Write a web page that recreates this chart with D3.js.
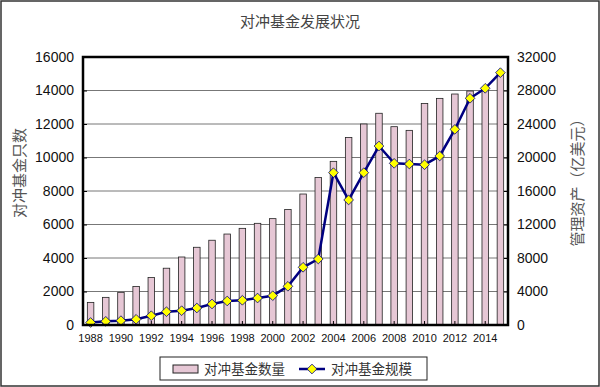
<!DOCTYPE html>
<html>
<head>
<meta charset="utf-8">
<script src="https://cdn.jsdelivr.net/npm/d3@7"></script>
<style>
  body { margin: 0; background: #fff; }
  svg { display: block; }
</style>
</head>
<body>
<div id="chart"></div>
<script>
// Data
const years = d3.range(1988, 2016);
const fundCount = [1350, 1650, 1950, 2300, 2830, 3390, 4060, 4640, 5060, 5430, 5770, 6070, 6350, 6900,
                   7820, 8810, 9770, 11200, 12000, 12640, 11840, 11620, 13230, 13530, 13790, 13970, 14130, 15060];
const fundAssets = [300, 440, 520, 680, 1110, 1590, 1710, 2030, 2510, 2870, 2950, 3220, 3500, 4620,
                    6890, 7880, 18190, 14930, 18190, 21370, 19300, 19220, 19140, 20180, 23360, 27070, 28260, 30130];
const leftTicks = d3.range(0, 16001, 2000);
const rightTicks = d3.range(0, 32001, 4000);

const width = 600, height = 387;
const margin = { top: 57, right: 92, bottom: 62, left: 83 };

const svg = d3.select("#chart")
    .append("svg")
    .attr("width", width)
    .attr("height", height)
    .style("font-family", "'Liberation Sans', Arial, sans-serif");

// outer frame
svg.append("rect")
    .attr("x", 1).attr("y", 1)
    .attr("width", width - 2).attr("height", height - 2)
    .attr("fill", "#fff")
    .attr("stroke", "#333")
    .attr("stroke-width", 1.5);

svg.append("text")
    .attr("x", 300).attr("y", 27)
    .attr("text-anchor", "middle")
    .attr("font-family", "'Noto Sans CJK SC', sans-serif")
    .attr("font-size", 15)
    .attr("fill", "#444")
    .text("对冲基金发展状况");

const x = d3.scaleBand()
    .domain(years)
    .range([margin.left, width - margin.right]);

const yL = d3.scaleLinear().domain([0, 16000]).range([height - margin.bottom, margin.top]);
const yR = d3.scaleLinear().domain([0, 32000]).range([height - margin.bottom, margin.top]);

// gridlines
svg.append("g")
    .selectAll("line")
    .data(leftTicks.slice(1, -1))
    .join("line")
    .attr("x1", margin.left).attr("x2", width - margin.right)
    .attr("y1", d => yL(d)).attr("y2", d => yL(d))
    .attr("stroke", "#777")
    .attr("stroke-width", 1);

// bars
const barW = 6.5;
svg.append("g")
    .selectAll("rect")
    .data(years)
    .join("rect")
    .attr("x", (d, i) => x(d) + x.bandwidth() / 2 - barW / 2)
    .attr("y", (d, i) => yL(fundCount[i]))
    .attr("width", barW)
    .attr("height", (d, i) => yL(0) - yL(fundCount[i]))
    .attr("fill", "#e6c7d5")
    .attr("stroke", "#222")
    .attr("stroke-width", 0.8);

// axes
const axL = svg.append("g")
    .attr("transform", `translate(${margin.left},0)`)
    .call(d3.axisLeft(yL).tickValues(leftTicks).tickSize(-4).tickPadding(9).tickFormat(d3.format("d")));
const axR = svg.append("g")
    .attr("transform", `translate(${width - margin.right},0)`)
    .call(d3.axisRight(yR).tickValues(rightTicks).tickSize(-4).tickPadding(9).tickFormat(d3.format("d")));
const axB = svg.append("g")
    .attr("transform", `translate(0,${height - margin.bottom})`)
    .call(d3.axisBottom(x).tickValues(years.filter(d => d % 2 === 0)).tickSize(-4).tickPadding(9));

[axL, axR].forEach(a => {
    a.select(".domain").remove();
    a.selectAll("line").attr("stroke", "#000");
    a.selectAll("text").attr("font-size", 14).attr("fill", "#111");
});
axB.select(".domain").remove();
axB.selectAll("line").attr("stroke", "#000");
axB.selectAll("text").attr("font-size", 11).attr("fill", "#111");

// line series
const line = d3.line()
    .x((d, i) => x(years[i]) + x.bandwidth() / 2)
    .y(d => yR(d));

svg.append("path")
    .datum(fundAssets)
    .attr("d", line)
    .attr("fill", "none")
    .attr("stroke", "#000080")
    .attr("stroke-width", 2.5);

const diamond = d3.symbol().type(d3.symbolDiamond2).size(60);
svg.append("g")
    .selectAll("path")
    .data(fundAssets)
    .join("path")
    .attr("d", diamond)
    .attr("transform", (d, i) => `translate(${x(years[i]) + x.bandwidth() / 2},${yR(d)})`)
    .attr("fill", "#ffff00")
    .attr("stroke", "#000080")
    .attr("stroke-width", 0.8);

// plot frame
svg.append("rect")
    .attr("x", margin.left).attr("y", margin.top)
    .attr("width", width - margin.left - margin.right)
    .attr("height", height - margin.top - margin.bottom)
    .attr("fill", "none")
    .attr("stroke", "#000")
    .attr("stroke-width", 2.5);

// axis titles
svg.append("text")
    .attr("transform", "translate(25,173) rotate(-90)")
    .attr("text-anchor", "middle")
    .attr("font-family", "'Noto Sans CJK SC', sans-serif")
    .attr("font-size", 15)
    .attr("fill", "#555")
    .text("对冲基金只数");

svg.append("text")
    .attr("transform", "translate(583,179) rotate(-90)")
    .attr("text-anchor", "middle")
    .attr("font-family", "'Noto Sans CJK SC', sans-serif")
    .attr("font-size", 15)
    .attr("fill", "#555")
    .text("管理资产（亿美元）");

// legend
const lg = svg.append("g").attr("font-family", "'Noto Sans CJK SC', sans-serif");
lg.append("rect")
    .attr("x", 160).attr("y", 357).attr("width", 267).attr("height", 23)
    .attr("fill", "#fff").attr("stroke", "#222").attr("stroke-width", 1);
lg.append("rect")
    .attr("x", 173).attr("y", 365).attr("width", 25).attr("height", 8)
    .attr("fill", "#e6c7d5").attr("stroke", "#222").attr("stroke-width", 1);
lg.append("text")
    .attr("x", 204).attr("y", 374)
    .attr("font-size", 13.5).attr("fill", "#333")
    .text("对冲基金数量");
lg.append("line")
    .attr("x1", 299).attr("x2", 325).attr("y1", 369).attr("y2", 369)
    .attr("stroke", "#000080").attr("stroke-width", 2.5);
lg.append("path")
    .attr("d", diamond)
    .attr("transform", "translate(312,369)")
    .attr("fill", "#ffff00").attr("stroke", "#000080").attr("stroke-width", 0.8);
lg.append("text")
    .attr("x", 331).attr("y", 374)
    .attr("font-size", 13.5).attr("fill", "#333")
    .text("对冲基金规模");
</script>
</body>
</html>
